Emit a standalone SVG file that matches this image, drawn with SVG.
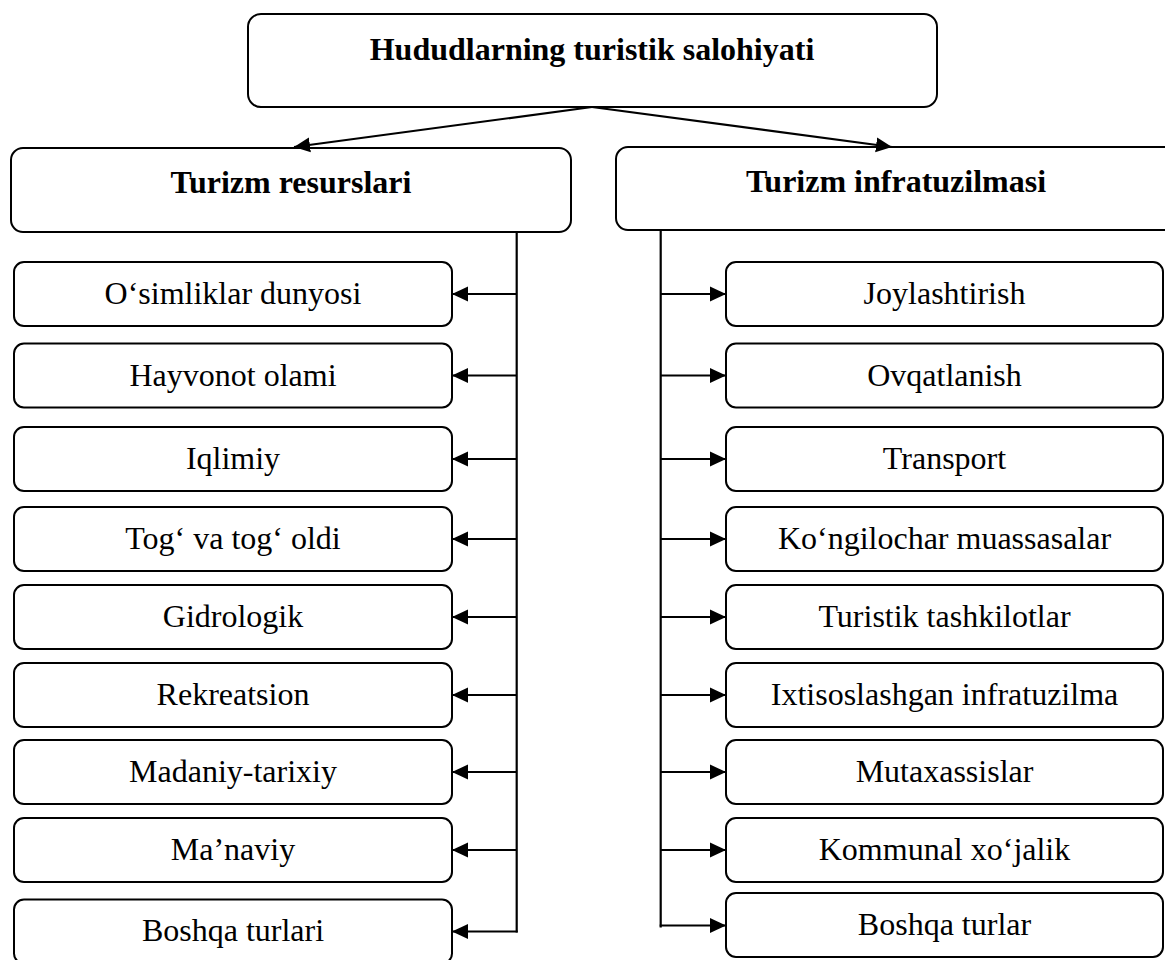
<svg xmlns="http://www.w3.org/2000/svg" width="1165" height="960" viewBox="0 0 1165 960">
<style>
.box{fill:#fff;stroke:#000;stroke-width:2}
.t{font-family:"Liberation Serif","Times New Roman",serif;font-size:32px;fill:#000;text-anchor:middle}
.b{font-weight:bold}
.c{stroke:#000;stroke-width:2.2;fill:none}
</style>
<defs>
<marker id="ah" viewBox="0 0 16 16" refX="16" refY="8" markerWidth="16" markerHeight="16" markerUnits="userSpaceOnUse" orient="auto">
<path d="M0,0.5 L16,8 L0,15.5 z" fill="#000"/>
</marker>
</defs>
<rect width="1165" height="960" fill="#fff"/>

<g id="root"><rect class="box" x="248" y="14" width="689" height="93" rx="13"/><text class="t b" x="592" y="60">Hududlarning turistik salohiyati</text></g>
<g id="resurslar"><rect class="box" x="11" y="148" width="560" height="84" rx="12"/><text class="t b" x="291" y="193">Turizm resurslari</text></g>
<g id="infratuzilma"><rect class="box" x="616" y="147" width="560" height="83" rx="12"/><text class="t b" x="896" y="192">Turizm infratuzilmasi</text></g>

<g id="l1"><rect class="box" x="14" y="262" width="438" height="64" rx="10"/><text class="t" x="233" y="304">O‘simliklar dunyosi</text></g>
<g id="l2"><rect class="box" x="14" y="343.5" width="438" height="64" rx="10"/><text class="t" x="233" y="386">Hayvonot olami</text></g>
<g id="l3"><rect class="box" x="14" y="427" width="438" height="64" rx="10"/><text class="t" x="233" y="469">Iqlimiy</text></g>
<g id="l4"><rect class="box" x="14" y="507" width="438" height="64" rx="10"/><text class="t" x="233" y="549">Tog‘ va tog‘ oldi</text></g>
<g id="l5"><rect class="box" x="14" y="585" width="438" height="64" rx="10"/><text class="t" x="233" y="627">Gidrologik</text></g>
<g id="l6"><rect class="box" x="14" y="663" width="438" height="64" rx="10"/><text class="t" x="233" y="705">Rekreatsion</text></g>
<g id="l7"><rect class="box" x="14" y="740" width="438" height="64" rx="10"/><text class="t" x="233" y="782">Madaniy-tarixiy</text></g>
<g id="l8"><rect class="box" x="14" y="818" width="438" height="64" rx="10"/><text class="t" x="233" y="860">Ma’naviy</text></g>
<g id="l9"><rect class="box" x="14" y="899.5" width="438" height="64" rx="10"/><text class="t" x="233" y="941">Boshqa turlari</text></g>

<g id="r1"><rect class="box" x="726" y="262" width="437" height="64" rx="10"/><text class="t" x="944.5" y="304">Joylashtirish</text></g>
<g id="r2"><rect class="box" x="726" y="343.5" width="437" height="64" rx="10"/><text class="t" x="944.5" y="386">Ovqatlanish</text></g>
<g id="r3"><rect class="box" x="726" y="427" width="437" height="64" rx="10"/><text class="t" x="944.5" y="469">Transport</text></g>
<g id="r4"><rect class="box" x="726" y="507" width="437" height="64" rx="10"/><text class="t" x="944.5" y="549">Ko‘ngilochar muassasalar</text></g>
<g id="r5"><rect class="box" x="726" y="585" width="437" height="64" rx="10"/><text class="t" x="944.5" y="627">Turistik tashkilotlar</text></g>
<g id="r6"><rect class="box" x="726" y="663" width="437" height="64" rx="10"/><text class="t" x="944.5" y="705">Ixtisoslashgan infratuzilma</text></g>
<g id="r7"><rect class="box" x="726" y="740" width="437" height="64" rx="10"/><text class="t" x="944.5" y="782">Mutaxassislar</text></g>
<g id="r8"><rect class="box" x="726" y="818" width="437" height="64" rx="10"/><text class="t" x="944.5" y="860">Kommunal xo‘jalik</text></g>
<g id="r9"><rect class="box" x="726" y="893" width="437" height="64" rx="10"/><text class="t" x="944.5" y="935">Boshqa turlar</text></g>

<g id="connectors">
<line class="c" x1="592" y1="107" x2="294" y2="147" marker-end="url(#ah)"/>
<line class="c" x1="592" y1="107" x2="892" y2="147" marker-end="url(#ah)"/>
<path class="c" d="M516.7,232 V932.5"/>
<path class="c" d="M660.7,230 V927.5"/>
<line class="c" x1="516.7" y1="294" x2="452" y2="294" marker-end="url(#ah)"/>
<line class="c" x1="516.7" y1="375.5" x2="452" y2="375.5" marker-end="url(#ah)"/>
<line class="c" x1="516.7" y1="459" x2="452" y2="459" marker-end="url(#ah)"/>
<line class="c" x1="516.7" y1="539" x2="452" y2="539" marker-end="url(#ah)"/>
<line class="c" x1="516.7" y1="617" x2="452" y2="617" marker-end="url(#ah)"/>
<line class="c" x1="516.7" y1="695" x2="452" y2="695" marker-end="url(#ah)"/>
<line class="c" x1="516.7" y1="772" x2="452" y2="772" marker-end="url(#ah)"/>
<line class="c" x1="516.7" y1="850" x2="452" y2="850" marker-end="url(#ah)"/>
<line class="c" x1="517.7" y1="931.5" x2="452" y2="931.5" marker-end="url(#ah)"/>
<line class="c" x1="660.7" y1="294" x2="726" y2="294" marker-end="url(#ah)"/>
<line class="c" x1="660.7" y1="375.5" x2="726" y2="375.5" marker-end="url(#ah)"/>
<line class="c" x1="660.7" y1="459" x2="726" y2="459" marker-end="url(#ah)"/>
<line class="c" x1="660.7" y1="539" x2="726" y2="539" marker-end="url(#ah)"/>
<line class="c" x1="660.7" y1="617" x2="726" y2="617" marker-end="url(#ah)"/>
<line class="c" x1="660.7" y1="695" x2="726" y2="695" marker-end="url(#ah)"/>
<line class="c" x1="660.7" y1="772" x2="726" y2="772" marker-end="url(#ah)"/>
<line class="c" x1="660.7" y1="850" x2="726" y2="850" marker-end="url(#ah)"/>
<line class="c" x1="659.7" y1="925.5" x2="726" y2="925.5" marker-end="url(#ah)"/>
</g>
</svg>
